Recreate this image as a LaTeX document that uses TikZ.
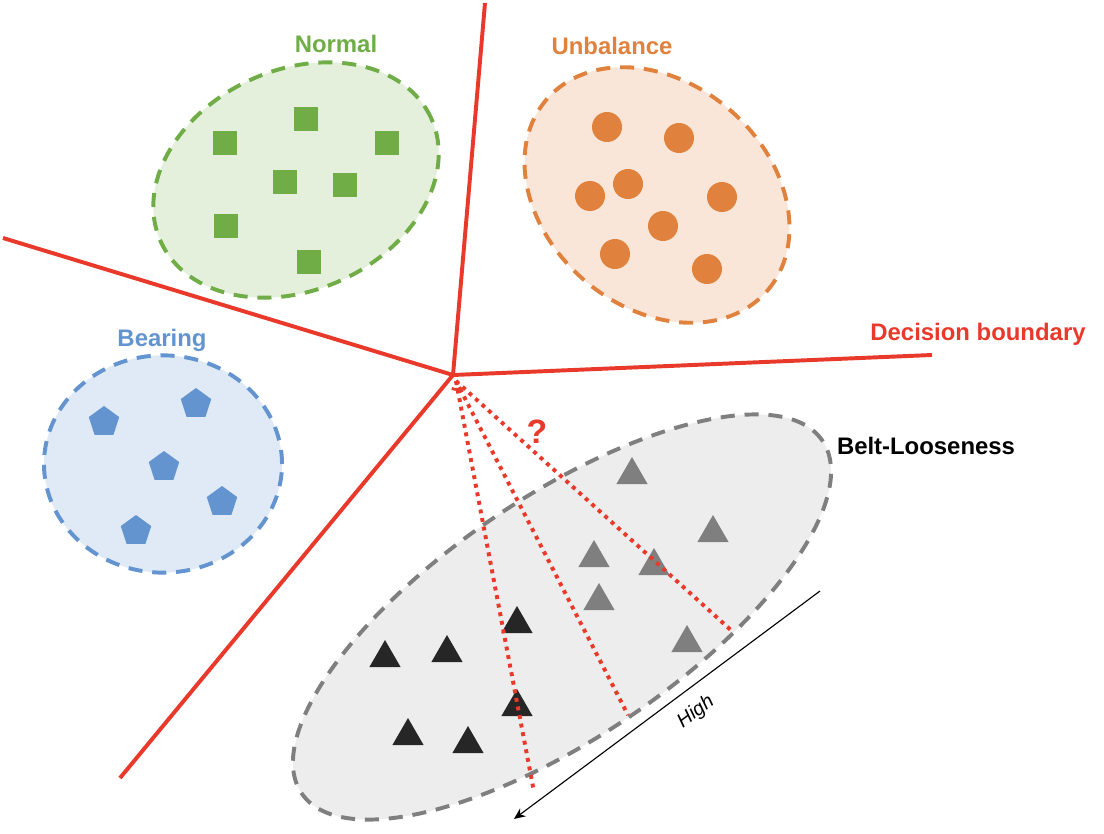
\documentclass[tikz,border=0pt]{standalone}
\usepackage{fontspec}
\setmainfont{Liberation Sans}
\usetikzlibrary{shapes.geometric,arrows.meta}

\definecolor{bndred}{HTML}{E8392B}
\definecolor{grnline}{HTML}{70AD47}
\definecolor{grnfill}{HTML}{E4F0DC}
\definecolor{orgline}{HTML}{E0823D}
\definecolor{orgfill}{HTML}{FAE6D8}
\definecolor{bluline}{HTML}{6394D0}
\definecolor{blufill}{HTML}{DFEAF6}
\definecolor{gryline}{HTML}{7F7F7F}
\definecolor{gryfill}{HTML}{EDEDED}

\begin{document}
\begin{tikzpicture}[x=0.025cm, y=-0.025cm,
	cluster/.style={ ellipse, draw, line width=2.8pt, dash pattern=on 10pt off 7pt, inner sep=0pt },
	sq/.style={ rectangle, fill=grnline, inner sep=0pt, minimum size=0.6cm },
	dot/.style={ circle, fill=orgline, inner sep=0pt, minimum size=0.75cm },
	pent/.style={ regular polygon, regular polygon sides=5, fill=bluline, inner sep=0pt, minimum size=0.8cm },
	tri/.style={ regular polygon, regular polygon sides=3, fill=gryline, inner sep=0pt, minimum size=0.9cm },
	trib/.style={ regular polygon, regular polygon sides=3, fill=black!85, inner sep=0pt, minimum size=0.9cm },
	bnd/.style={ bndred, line width=2.8pt },
	probe/.style={ bndred, line width=2.8pt, dash pattern=on 2.8pt off 3.4pt },
	lbl/.style={ font=\fontsize{17}{20}\selectfont\bfseries }
]
\useasboundingbox (0,0) rectangle (1104,834);

% clusters
\node[cluster, draw=grnline, fill=grnfill, minimum width=7.43cm, minimum height=5.5cm, rotate=24.6] at (296,180) (normal) {};
\node[cluster, draw=orgline, fill=orgfill, minimum width=7.3cm, minimum height=5.6cm, rotate=-41] at (657,195) (unbal) {};
\node[cluster, draw=bluline, fill=blufill, minimum width=5.95cm, minimum height=5.43cm] at (163,464) (bearing) {};
\node[cluster, draw=gryline, fill=gryfill, minimum width=15.72cm, minimum height=6.02cm, rotate=34.1] at (562,617) (belt) {};

% decision boundary
\coordinate (jct) at (453,375);
\coordinate (bt) at (485,3);
\coordinate (bl) at (3,238);
\coordinate (br) at (932,355);
\coordinate (bb) at (120,778);
\foreach \p in {bt,bl,br,bb} \draw[bnd] (jct) to (\p);

% samples
\foreach \x/\y in {225/143,306/119,387/143,285/182,345/185,226/226,309/262} \node[sq] at (\x,\y) {};
\foreach \x/\y in {607/127,679/138,628/184,590/196,722/197,663/226,615/254,707/269} \node[dot] at (\x,\y) {};
\foreach \x/\y in {104/422,196/404,164/467,222/502,136/531} \node[pent] at (\x,\y) {};
\foreach \x/\y in {632/475,713/533,594/558,654/566,599/601,687/643} \node[tri] at (\x,\y) {};
\foreach \x/\y in {517/624,385/658,447/653,517/707,408/736,468/744} \node[trib] at (\x,\y) {};

% probes from the junction
\coordinate (p0) at (456,381);
\coordinate (p1) at (534,792);
\coordinate (p2) at (628,715);
\coordinate (p3) at (733,632);
\foreach \p in {p1,p2,p3} \draw[probe] (p0) to (\p);
\draw[bndred, line width=2pt] (p0) ++(-120:6pt) arc[start angle=-120, end angle=-50, radius=6pt];

% severity axis
\coordinate (hi) at (820,591);
\coordinate (lo) at (514,819);
\draw[-{Stealth[length=8pt,width=7pt]}, thick] (hi) to (lo);
\node[rotate=36.6, font=\fontsize{14}{16}\selectfont\itshape] at (696,712) (high) {High};

% labels
\node[lbl, text=grnline] at (336,44) (tnormal) {Normal};
\node[lbl, text=orgline] at (612,46) (tunbal) {Unbalance};
\node[lbl, text=bluline] at (162,340) (tbearing) {Bearing};
\node[lbl] at (926,446) (tbelt) {Belt-Looseness};
\node[lbl, text=bndred] at (978,334) (tbnd) {Decision boundary};
\node[font=\fontsize{24}{26}\selectfont\bfseries, text=bndred] at (537,432) (quest) {?};

\end{tikzpicture}
\end{document}
